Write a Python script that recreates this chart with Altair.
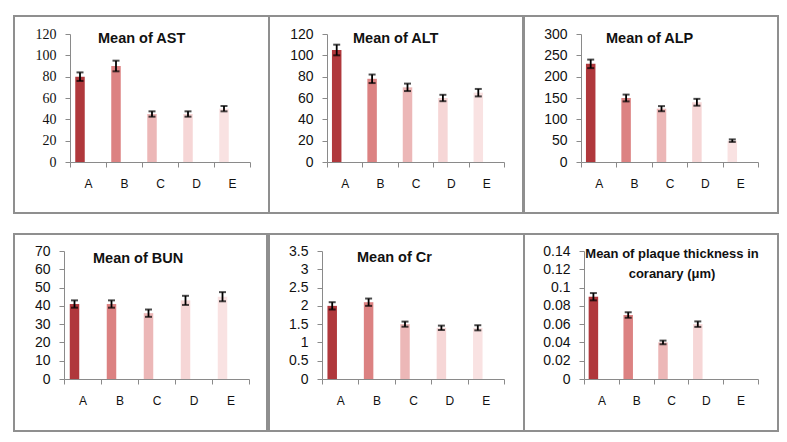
import altair as alt
import pandas as pd

categories = ["A", "B", "C", "D", "E"]
bar_colors = ["#b0383c", "#dc8282", "#ecb7b7", "#f6d6d6", "#f9e2e2"]

ast_mean = [80, 90, 45, 45, 50]
ast_err = [4, 5, 2.5, 2.5, 2.5]
alt_mean = [105, 78, 70, 60, 65]
alt_err = [5, 4, 3.5, 3, 3.5]
alp_mean = [230, 150, 125, 140, 50]
alp_err = [10, 8, 6, 8, 3]
bun_mean = [41, 41, 36, 43, 45]
bun_err = [2, 2, 2, 2.5, 2.5]
cr_mean = [2.0, 2.1, 1.5, 1.4, 1.4]
cr_err = [0.1, 0.1, 0.07, 0.06, 0.07]
plaque_mean = [0.09, 0.07, 0.04, 0.06, None]
plaque_err = [0.004, 0.003, 0.002, 0.003, None]

ast_ticks = [0, 20, 40, 60, 80, 100, 120]
alt_ticks = [0, 20, 40, 60, 80, 100, 120]
alp_ticks = [0, 50, 100, 150, 200, 250, 300]
bun_ticks = [0, 10, 20, 30, 40, 50, 60, 70]
cr_ticks = [0, 0.5, 1, 1.5, 2, 2.5, 3, 3.5]
plaque_ticks = [0, 0.02, 0.04, 0.06, 0.08, 0.1, 0.12, 0.14]

titles = {
    "AST": ["Mean of AST"],
    "ALT": ["Mean of ALT"],
    "ALP": ["Mean of ALP"],
    "BUN": ["Mean of  BUN"],
    "Cr": ["Mean of Cr"],
    "PT": ["Mean of plaque thickness in", "coranary (\u03bcm)"],
}

AXIS_GRAY = "#8a8a8a"
BORDER = "#8f8f8f"
PANEL_H = 197
OFF = -8


def panel(means, errs, ticks, panel_w, x_range, y_range, title_lines, title_x, title_y,
          title_align, title_size, label_font):
    rows = []
    for c, m, e in zip(categories, means, errs):
        if m is None:
            continue
        rows.append({"cat": c, "value": m, "lo": m - e, "hi": m + e})
    df = pd.DataFrame(rows)
    x_scale = alt.Scale(domain=categories, range=x_range, paddingInner=0, paddingOuter=0)
    x_axis = alt.Axis(title=None, labelAngle=0, tickBand="extent", domainColor=AXIS_GRAY,
                      tickColor=AXIS_GRAY, tickSize=5, labelPadding=11,
                      offset=-(PANEL_H - y_range[0]),
                      labelFont="Liberation Sans", labelFontSize=12, labelColor="#111",
                      grid=False)
    y_scale = alt.Scale(domain=[ticks[0], ticks[-1]], range=y_range, nice=False)
    y_axis = alt.Axis(title=None, values=ticks, format="~r", grid=False,
                      labelOverlap=False, labelFlush=False, offset=-x_range[0],
                      domainColor=AXIS_GRAY, tickColor=AXIS_GRAY, tickSize=5,
                      labelPadding=9, labelFont=label_font, labelFontSize=14,
                      labelColor="#111")
    X = alt.X("cat:N", scale=x_scale, axis=x_axis)
    base = alt.Chart(df)
    bars = base.mark_bar(width=9.5, xOffset=OFF).encode(
        x=X,
        y=alt.Y("value:Q", scale=y_scale, axis=y_axis),
        color=alt.Color("cat:N", scale=alt.Scale(domain=categories, range=bar_colors),
                        legend=None),
    )
    rule = base.mark_rule(xOffset=OFF, color="black", strokeWidth=1.8).encode(
        x=X, y=alt.Y("lo:Q", scale=y_scale, axis=y_axis), y2="hi:Q")
    cap_lo = base.mark_tick(orient="horizontal", size=7, thickness=2, color="black",
                            xOffset=OFF).encode(
        x=X, y=alt.Y("lo:Q", scale=y_scale, axis=y_axis))
    cap_hi = base.mark_tick(orient="horizontal", size=7, thickness=2, color="black",
                            xOffset=OFF).encode(
        x=X, y=alt.Y("hi:Q", scale=y_scale, axis=y_axis))
    one = alt.Data(values=[{"k": 0}])
    title_layers = []
    for i, line in enumerate(title_lines):
        title_layers.append(
            alt.Chart(one).mark_text(align=title_align, baseline="middle",
                                     font="Liberation Sans", fontWeight="bold",
                                     fontSize=title_size, color="#111").encode(
                x=alt.value(title_x[i]), y=alt.value(title_y[i]), text=alt.value(line)))
    return alt.layer(bars, rule, cap_lo, cap_hi, *title_layers).properties(
        width=panel_w, height=PANEL_H,
        view=alt.ViewBackground(stroke=BORDER, strokeWidth=2, fill="white"))


p1 = panel(ast_mean, ast_err, ast_ticks, 255, [56, 236], [146, 18], titles["AST"],
           [84], [23], "left", 14.5, "Liberation Serif")
p2 = panel(alt_mean, alt_err, alt_ticks, 254, [58, 235], [146, 18], titles["ALT"],
           [84], [23], "left", 14.5, "Liberation Sans")
p3 = panel(alp_mean, alp_err, alp_ticks, 254, [57, 234], [146, 18], titles["ALP"],
           [82], [23], "left", 14.5, "Liberation Sans")
p4 = panel(bun_mean, bun_err, bun_ticks, 253, [50, 235], [145, 17], titles["BUN"],
           [79], [25], "left", 14.5, "Liberation Sans")
p5 = panel(cr_mean, cr_err, cr_ticks, 255, [53, 235], [145, 17], titles["Cr"],
           [88], [24], "left", 14.5, "Liberation Sans")
p6 = panel(plaque_mean, plaque_err, plaque_ticks, 254, [60, 234], [145, 17], titles["PT"],
           [148, 148], [20, 40], "center", 13, "Liberation Sans")

chart = alt.concat(
    p1, p2, p3, p4, p5, p6,
    columns=3,
    align="none",
    bounds="flush",
    spacing={"row": 21, "column": 0},
).properties(
    padding={"left": 5, "top": 7, "right": 0, "bottom": 0}
).configure(background="white")

chart.save("out.html", embed_options={"renderer": "svg", "actions": False})
